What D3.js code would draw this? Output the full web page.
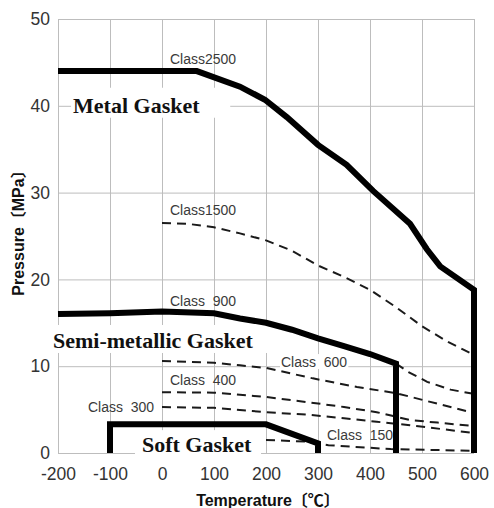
<!DOCTYPE html>
<html>
<head>
<meta charset="utf-8">
<script src="https://cdn.jsdelivr.net/npm/d3@7"></script>
<style>
body{margin:0;background:#fff;}
</style>
</head>
<body>
<svg id="chart" width="494" height="508"></svg>
<script>
// axis ticks
var xTicks = [-200,-100,0,100,200,300,400,500,600];
var yTicks = [0,10,20,30,40,50];

// pressure-temperature ratings
var class2500T = [-200, 67, 150, 198, 240, 300, 355, 406, 477, 509, 535, 600, 600];
var class2500P = [44, 44, 42.2, 40.7, 38.7, 35.5, 33.2, 30.2, 26.4, 23.5, 21.5, 18.8, 0];
var class1500T = [0, 50, 100, 150, 200, 250, 300, 350, 400, 450, 500, 550, 600];
var class1500P = [26.5, 26.4, 26.0, 25.3, 24.5, 23.3, 21.6, 20.3, 18.8, 16.8, 14.6, 12.8, 11.3];
var class900T = [-200, -100, 0, 100, 150, 200, 250, 300, 350, 400, 450, 450];
var class900P = [16.0, 16.1, 16.3, 16.1, 15.5, 15.0, 14.2, 13.2, 12.3, 11.4, 10.3, 0];
var class900HiT = [450, 475, 510, 555, 600];
var class900HiP = [10.3, 9.3, 8.2, 7.3, 6.8];
var class600T = [0, 100, 150, 200, 290, 375, 450, 600];
var class600P = [10.6, 10.4, 10.1, 9.8, 8.6, 7.6, 6.9, 4.6];
var class400T = [0, 100, 200, 300, 350, 413, 477, 530, 600];
var class400P = [7.0, 6.95, 6.45, 5.7, 5.3, 4.7, 3.8, 3.5, 3.1];
var class300T = [0, 100, 200, 285, 350, 413, 477, 600];
var class300P = [5.3, 5.2, 4.7, 4.4, 4.0, 3.6, 3.2, 2.3];
var class150T = [200, 280, 320, 440, 600];
var class150P = [1.5, 1.3, 0.9, 0.45, 0.25];
var softT = [-100, -100, 200, 300, 300];
var softP = [0, 3.3, 3.3, 1.1, 0];

var classNames = ["Class2500","Class1500","Class  900","Class  600","Class  400","Class  300","Class  150"];
var gasketNames = ["Metal Gasket","Semi-metallic Gasket","Soft Gasket"];

var svg = d3.select("#chart");
var plotLeft = 58, plotRight = 474, plotTop = 19, plotBottom = 453;

var x = d3.scaleLinear().domain([-200,600]).range([plotLeft,plotRight]);
var y = d3.scaleLinear().domain([0,50]).range([plotBottom,plotTop]);

var gridG = svg.append("g");
var bgG = svg.append("g");
var lineG = svg.append("g");
var textG = svg.append("g");

// grid + tick labels
var xAxis = d3.axisBottom(x).tickValues(xTicks).tickSize(-(plotBottom-plotTop)).tickPadding(15)
	.tickFormat(function(d){return String(d);});
var yAxis = d3.axisLeft(y).tickValues(yTicks).tickSize(-(plotRight-plotLeft)).tickPadding(8)
	.tickFormat(function(d){return String(d);});

gridG.append("g").attr("transform","translate(0,"+plotBottom+")").call(xAxis);
gridG.append("g").attr("transform","translate("+plotLeft+",0)").call(yAxis);
gridG.selectAll(".domain").remove();
gridG.selectAll(".tick line").attr("stroke","#bdbdbd").attr("stroke-width",1);
gridG.selectAll(".tick text")
	.attr("fill","#333")
	.style("font-family","'Liberation Sans', Arial, sans-serif")
	.style("font-size","17.5px");

function pts(ts,ps){
	var out = [];
	for (var i=0;i<ts.length;i++) out.push([ts[i],ps[i]]);
	return out;
}
var line = d3.line().x(function(d){return x(d[0]);}).y(function(d){return y(d[1]);});

function drawThick(ts,ps){
	lineG.append("path").attr("d",line(pts(ts,ps)))
		.attr("fill","none").attr("stroke","#000")
		.attr("stroke-width",6).attr("stroke-linejoin","miter");
}
function drawDash(ts,ps){
	lineG.append("path").attr("d",line(pts(ts,ps)))
		.attr("fill","none").attr("stroke","#1a1a1a")
		.attr("stroke-width",2).attr("stroke-dasharray","9,6");
}
drawDash(class1500T,class1500P);
drawDash(class900HiT,class900HiP);
drawDash(class600T,class600P);
drawDash(class400T,class400P);
drawDash(class300T,class300P);
drawDash(class150T,class150P);
drawThick(class2500T,class2500P);
drawThick(class900T,class900P);
drawThick(softT,softP);

// class labels
var classPos = [[15.4,44.8],[15.4,27.4],[15.4,16.9],[228.8,9.9],[15.4,7.8],[-142.3,4.7],[317.3,1.5]];
classNames.forEach(function(name,i){
	var t = textG.append("text")
		.attr("x",x(classPos[i][0])).attr("y",y(classPos[i][1]))
		.attr("fill","#3a3a3a")
		.style("font-family","'Liberation Sans', Arial, sans-serif")
		.style("font-size","14px")
		.style("white-space","pre")
		.text(name);
	if (name=="Class  600"){
		var b = t.node().getBBox();
		bgG.append("rect").attr("x",b.x-1).attr("y",b.y).attr("width",b.width+2).attr("height",b.height-1)
			.attr("fill","#fff");
	}
});

// gasket labels
var gasketPos = [[-171,39.2],[-209.6,12.1],[-38.5,0.1]];
var gasketPad = [[2,30,5,0],[2,22,3,0],[7,9,2,3]]; // left,right,top,bottom
gasketNames.forEach(function(name,i){
	var t = textG.append("text")
		.attr("x",x(gasketPos[i][0])).attr("y",y(gasketPos[i][1]))
		.attr("fill","#111")
		.style("font-family","'Liberation Serif', 'Times New Roman', serif")
		.style("font-weight","bold")
		.style("font-size","22px")
		.text(name);
	var b = t.node().getBBox();
	var p = gasketPad[i];
	bgG.append("rect").attr("x",b.x-p[0]).attr("y",b.y-p[2])
		.attr("width",b.width+p[0]+p[1]).attr("height",b.height+p[2]+p[3])
		.attr("fill","#fff");
});

// axis titles
textG.append("text")
	.attr("transform","translate(24,229) rotate(-90)")
	.attr("text-anchor","middle")
	.attr("fill","#111")
	.style("font-family","'Liberation Sans', 'Noto Sans CJK JP', sans-serif")
	.style("font-weight","bold")
	.style("font-size","16px")
	.text("Pressure〔MPa〕");
textG.append("text")
	.attr("x",268).attr("y",506)
	.attr("text-anchor","middle")
	.attr("fill","#111")
	.style("font-family","'Liberation Sans', 'Noto Sans CJK JP', sans-serif")
	.style("font-weight","bold")
	.style("font-size","16px")
	.text("Temperature〔℃〕");
</script>
</body>
</html>
